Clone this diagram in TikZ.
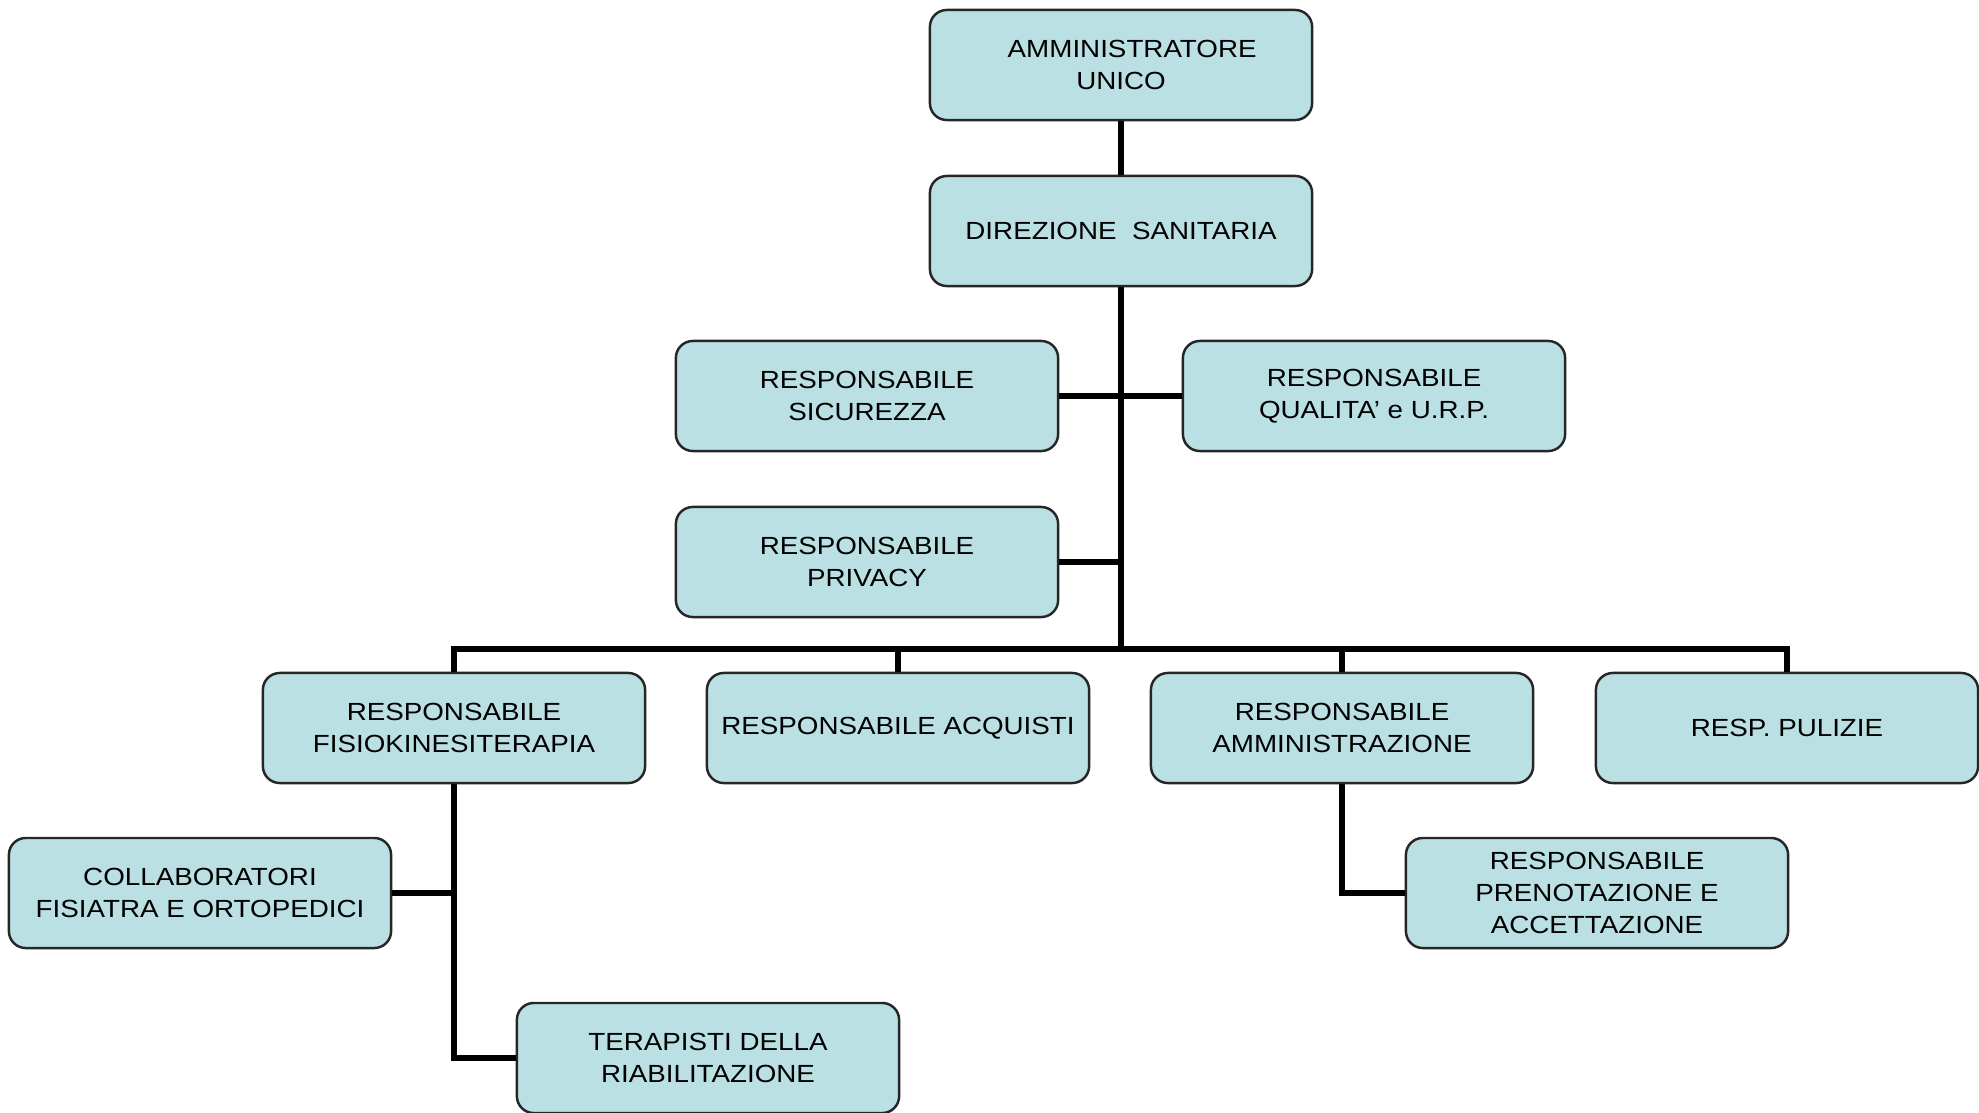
\documentclass[tikz,border=0pt]{standalone}
\usepackage{fontspec}
\setmainfont[FakeStretch=1.12]{Liberation Sans}
\usepackage{xcolor}
\usepackage{tikz}
\usetikzlibrary{positioning}
\definecolor{boxfill}{RGB}{186,224,227}

\begin{document}
\begin{tikzpicture}[
box/.style={
  draw=black!85,
  fill=boxfill,
  rounded corners=4.8pt,
  line width=0.7pt,
  minimum width=3.82cm,
  minimum height=1.1cm,
  inner sep=0pt,
  align=center,
  font=\fontsize{7.05}{9.1}\selectfont
  },
link/.style={
  line width=1.45pt
  },
x=0.01cm,
y=-0.01cm
]
\useasboundingbox (0,0) rectangle (1979,1112);
% vertici
\node[box] (au) at (1121,65) {\hspace*{0.9em}AMMINISTRATORE\\UNICO};
\node[box] (ds) at (1121,231) {DIREZIONE\ \ SANITARIA};
\node[box] (rs) at (867,396) {RESPONSABILE\\SICUREZZA};
\node[box] (rq) at (1374,396) {RESPONSABILE\\QUALITA’ e U.R.P.};
\node[box] (rp) at (867,562) {RESPONSABILE\\PRIVACY};
% livello dei responsabili
\node[box] (rf) at (454,728) {RESPONSABILE\\FISIOKINESITERAPIA};
\node[box] (ra) at (898,728) {RESPONSABILE ACQUISTI};
\node[box] (ram) at (1342,728) {RESPONSABILE\\AMMINISTRAZIONE};
\node[box] (rpu) at (1787,728) {RESP. PULIZIE};
% sottoposti
\node[box] (coll) at (200,893) {COLLABORATORI\\FISIATRA E ORTOPEDICI};
\node[box] (ter) at (708,1058) {TERAPISTI DELLA\\RIABILITAZIONE};
\node[box] (rpa) at (1597,893) {RESPONSABILE\\PRENOTAZIONE E\\ACCETTAZIONE};
\coordinate (bus) at (1121,649);

\draw[link] (au) -- (ds);
\draw[link] (ds) -- (bus);
\draw[link] (rs.east) -- (rq.west);
\draw[link] (rp.east) -- (rp.east -| bus);
\draw[link] (rf.north) -- (rf.north |- bus) -- (rpu.north |- bus) -- (rpu.north);
\foreach \n in {ra,ram}
  \draw[link] (\n.north) -- (\n.north |- bus);
\draw[link] (rf.south) |- (ter.west);
\draw[link] (coll.east) -- (coll.east -| rf.south);
\draw[link] (ram.south) |- (rpa.west);
\end{tikzpicture}
\end{document}
